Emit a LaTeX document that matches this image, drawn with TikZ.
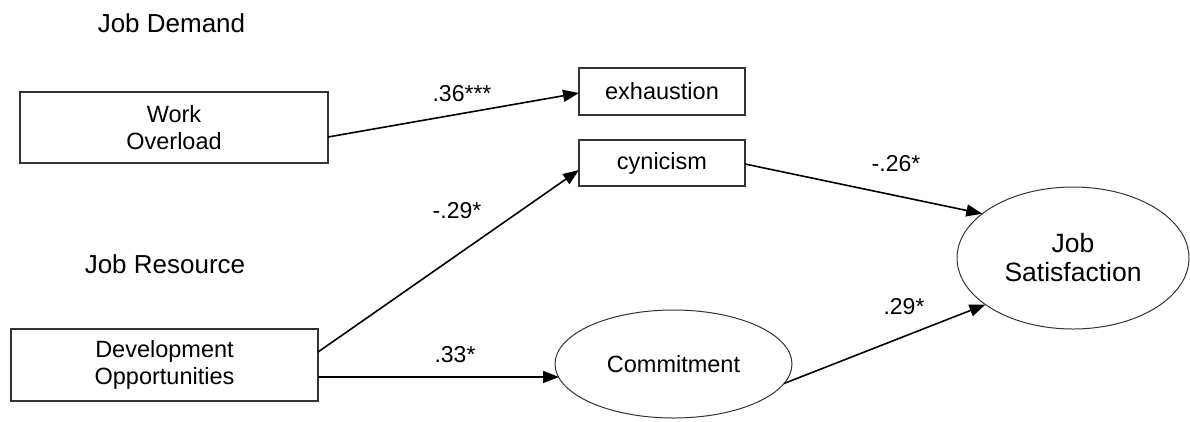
\documentclass[tikz,border=0pt]{standalone}
\usepackage{fontspec}
\setmainfont{Liberation Sans}
\usetikzlibrary{arrows.meta,shapes.geometric,calc}
\begin{document}
\begin{tikzpicture}[x=1pt,y=-1pt,
  every node/.style={font=\fontsize{23.5}{27}\selectfont, inner sep=0pt, outer sep=0pt},
  box/.style={draw=black!80, line width=1.3pt, rectangle, align=center},
  oval/.style={draw=black!80, line width=1pt, ellipse, align=center},
  head/.style={font=\fontsize{26}{30}\selectfont, anchor=base},
  coef/.style={font=\fontsize{23}{27}\selectfont, anchor=base},
  path/.style={line width=1.6pt, -{Triangle[length=16pt,width=12pt]}}
]
\useasboundingbox (0,0) rectangle (1190,421);
\fill[white] (0,0) rectangle (1190,421);

\node[head] (hd) at (171.5,32) {Job Demand};
\node[head] (hr) at (165,273) {Job Resource};

\node[box, minimum width=308pt, minimum height=71pt] (wo) at (174,127.5) {Work\\Overload};
\node[box, minimum width=166pt, minimum height=47pt] (ex) at (662,91.5) {exhaustion};
\node[box, minimum width=166pt, minimum height=46pt] (cy) at (662,163) {cynicism};
\node[box, minimum width=307pt, minimum height=72pt] (dev) at (164.5,365) {Development\\Opportunities};
\node[oval, minimum width=237pt, minimum height=108pt] (com) at (673.5,364) {Commitment};
\node[oval, minimum width=232pt, minimum height=142pt, font=\fontsize{26.5}{29}\selectfont] (js) at (1073,258) {Job\\Satisfaction};

\draw[path] ($(wo.east)+(0,9.5)$) -- ($(ex.west)+(0,1.5)$);
\draw[path] ($(dev.east)+(0,-13)$) -- ($(cy.west)+(0,7)$);
\draw[path] ($(dev.east)+(0,12)$) -- ($(com.west)+(4,13)$);
\draw[path] ($(cy.east)+(0,1)$) -- (js.154);
\draw[path] (com.-10.7) -- (js.208);

\node[coef] (c1) at (462,101) {.36***};
\node[coef] (c2) at (457,218) {-.29*};
\node[coef] (c3) at (455,362) {.33*};
\node[coef] (c4) at (896,171) {-.26*};
\node[coef] (c5) at (904,314) {.29*};
\end{tikzpicture}
\end{document}
